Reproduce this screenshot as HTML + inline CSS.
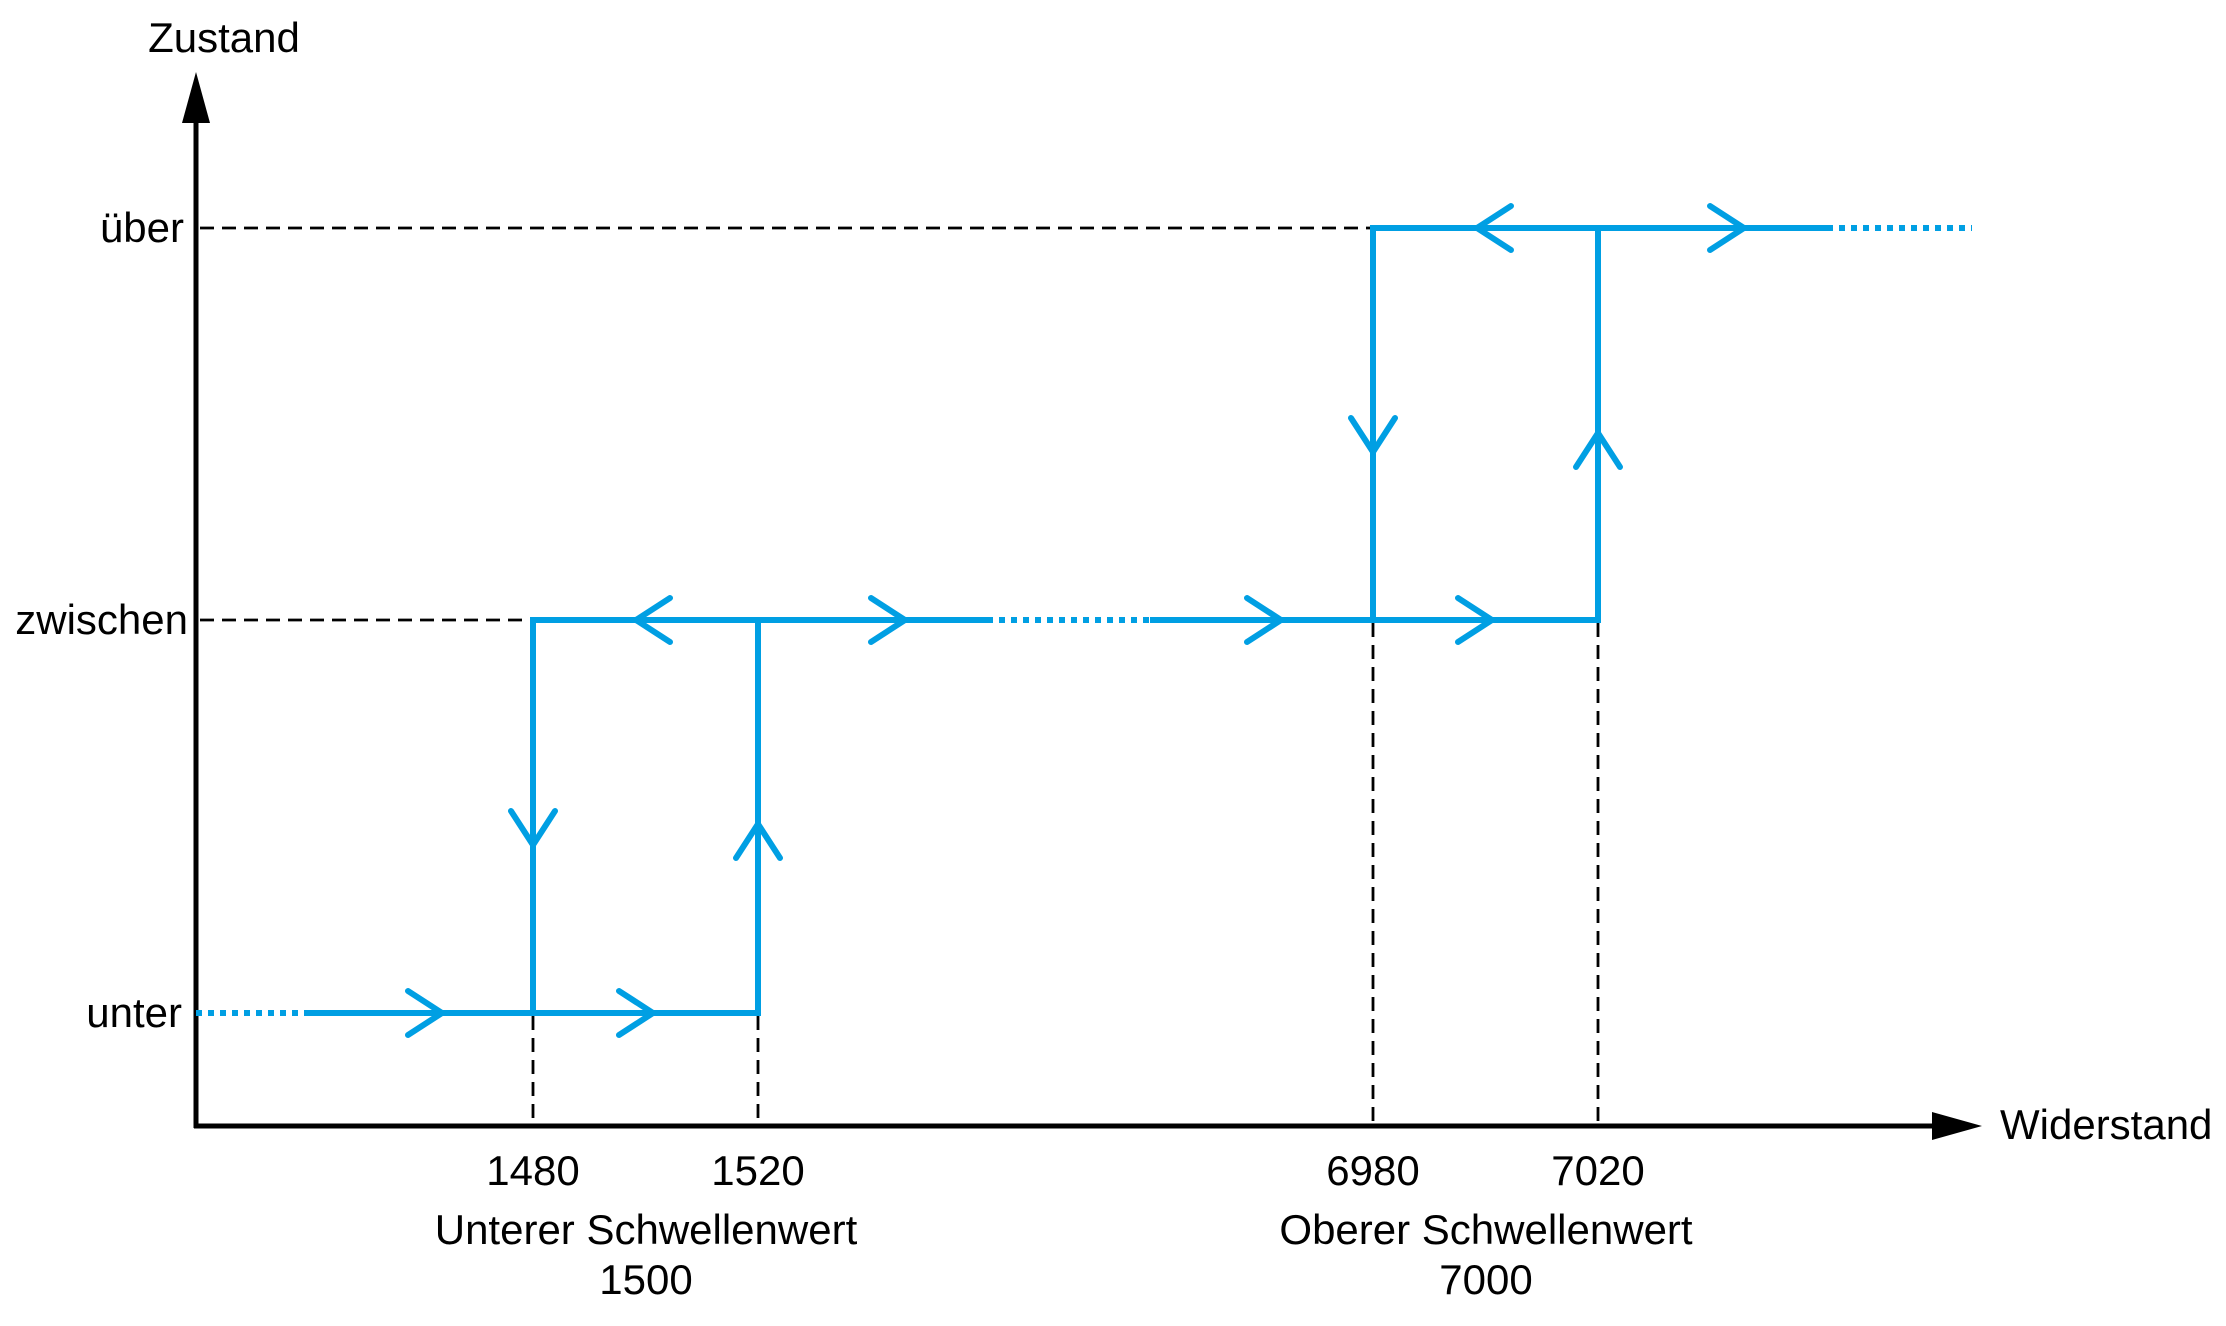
<!DOCTYPE html>
<html><head><style>html,body{margin:0;padding:0;background:#fff}svg{display:block}</style></head>
<body>
<svg width="2226" height="1326" viewBox="0 0 2226 1326" xmlns="http://www.w3.org/2000/svg" font-family="Liberation Sans, Arial, sans-serif" font-size="42">
<g stroke="#000" stroke-width="2.8" stroke-dasharray="14 8" fill="none">
<line x1="200" y1="228" x2="1373" y2="228"/>
<line x1="200" y1="620" x2="533" y2="620"/>
<line x1="533" y1="1016" x2="533" y2="1124"/>
<line x1="758" y1="1016" x2="758" y2="1124"/>
<line x1="1373" y1="623" x2="1373" y2="1124"/>
<line x1="1598" y1="623" x2="1598" y2="1124"/>
</g>
<g stroke="#000" stroke-width="5" fill="none">
<line x1="196" y1="115" x2="196" y2="1128"/>
<line x1="194" y1="1126" x2="1940" y2="1126"/>
</g>
<polygon points="196,72 182,123 210,123" fill="#000"/>
<polygon points="1982,1126 1932,1112 1932,1140" fill="#000"/>
<g stroke="#009fe3" stroke-width="6" fill="none">
<line x1="196" y1="1013" x2="305" y2="1013" stroke-dasharray="6 6"/>
<polyline points="305,1013 761,1013"/>
<line x1="533" y1="620" x2="533" y2="1016"/>
<line x1="758" y1="620" x2="758" y2="1016"/>
<line x1="530" y1="620" x2="987" y2="620"/>
<line x1="987" y1="620" x2="1150" y2="620" stroke-dasharray="6 6"/>
<line x1="1150" y1="620" x2="1601" y2="620"/>
<line x1="1373" y1="225" x2="1373" y2="620"/>
<line x1="1598" y1="225" x2="1598" y2="620"/>
<line x1="1370" y1="228" x2="1827" y2="228"/>
<line x1="1827" y1="228" x2="1972" y2="228" stroke-dasharray="6 6"/>
</g>
<g stroke="#009fe3" stroke-width="6" fill="none" stroke-linecap="round" stroke-linejoin="round">
<polyline points="408,991 442,1013 408,1035"/>
<polyline points="619,991 653,1013 619,1035"/>
<polyline points="871,598 905,620 871,642"/>
<polyline points="1247,598 1281,620 1247,642"/>
<polyline points="1458,598 1492,620 1458,642"/>
<polyline points="1710,206 1744,228 1710,250"/>
<polyline points="670,598 636,620 670,642"/>
<polyline points="1511,206 1477,228 1511,250"/>
<polyline points="511,811 533,845 555,811"/>
<polyline points="1351,418 1373,452 1395,418"/>
<polyline points="736,858 758,824 780,858"/>
<polyline points="1576,467 1598,433 1620,467"/>
</g>
<g fill="#000">
<text x="224" y="52" text-anchor="middle">Zustand</text>
<text x="184" y="242" text-anchor="end">über</text>
<text x="188" y="634" text-anchor="end">zwischen</text>
<text x="182" y="1027" text-anchor="end">unter</text>
<text x="2000" y="1139">Widerstand</text>
<text x="533" y="1185" text-anchor="middle">1480</text>
<text x="758" y="1185" text-anchor="middle">1520</text>
<text x="1373" y="1185" text-anchor="middle">6980</text>
<text x="1598" y="1185" text-anchor="middle">7020</text>
<text x="646" y="1244" text-anchor="middle">Unterer Schwellenwert</text>
<text x="646" y="1294" text-anchor="middle">1500</text>
<text x="1486" y="1244" text-anchor="middle">Oberer Schwellenwert</text>
<text x="1486" y="1294" text-anchor="middle">7000</text>
</g>
</svg>
</body></html>
